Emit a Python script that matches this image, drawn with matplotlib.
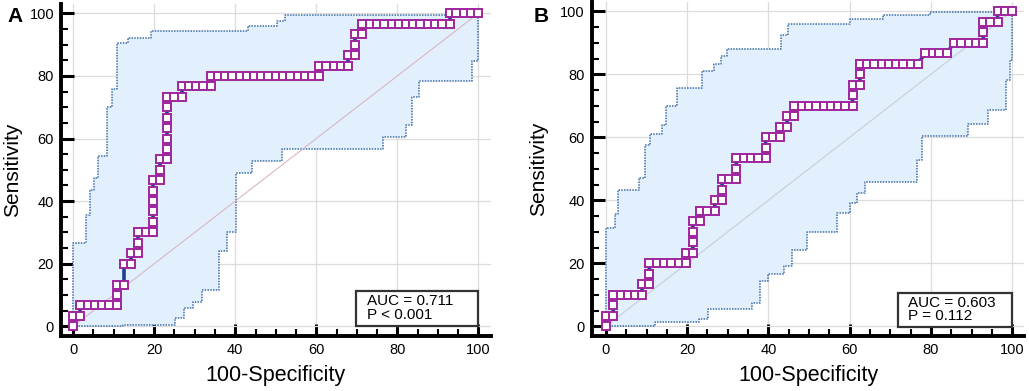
import numpy as np
import matplotlib.pyplot as plt
from matplotlib.patches import Rectangle
from matplotlib.ticker import MultipleLocator

plt.rcParams['font.family'] = ['Liberation Sans', 'DejaVu Sans']

# panel A - ROC points (100-specificity, sensitivity)
a_fpr = [0, 0, 1.8, 1.8, 3.6, 5.4, 7.1, 8.9, 10.7, 10.7, 10.7, 12.5, 12.5, 14.3, 14.3,
         16.1, 16.1, 16.1, 17.9, 19.6, 19.6, 19.6, 19.6, 19.6, 19.6, 21.4, 21.4, 21.4,
         23.2, 23.2, 23.2, 23.2, 23.2, 23.2, 23.2, 25.0, 26.8, 26.8, 28.6, 30.4, 32.1,
         33.9, 33.9, 35.7, 37.5, 39.3, 41.1, 42.9, 44.6, 46.4, 48.2, 50.0, 51.8, 53.6,
         55.4, 57.1, 58.9, 60.7, 60.7, 62.5, 64.3, 66.1, 67.9, 67.9, 69.6, 69.6, 69.6,
         71.4, 71.4, 73.2, 75.0, 76.8, 78.6, 80.4, 82.1, 83.9, 85.7, 87.5, 89.3, 91.1,
         92.9, 92.9, 94.6, 96.4, 98.2, 100]
a_sens = [0, 3.3, 3.3, 6.7, 6.7, 6.7, 6.7, 6.7, 6.7, 10, 13.3, 13.3, 20, 20, 23.3,
          23.3, 26.7, 30, 30, 30, 33.3, 36.7, 40, 43.3, 46.7, 46.7, 50, 53.3,
          53.3, 56.7, 60, 63.3, 66.7, 70, 73.3, 73.3, 73.3, 76.7, 76.7, 76.7, 76.7,
          76.7, 80, 80, 80, 80, 80, 80, 80, 80, 80, 80, 80, 80,
          80, 80, 80, 80, 83.3, 83.3, 83.3, 83.3, 83.3, 86.7, 86.7, 90, 93.3,
          93.3, 96.7, 96.7, 96.7, 96.7, 96.7, 96.7, 96.7, 96.7, 96.7, 96.7, 96.7, 96.7,
          96.7, 100, 100, 100, 100, 100]

# panel A - confidence band (step corners)
a_up_x = [0, 0, 3.1, 4.1, 5.1, 6.1, 8.4, 9.7, 10.8, 13.5, 19.3, 43.1, 50.3, 52.3, 100]
a_up_y = [0, 26.6, 35.7, 43.7, 47.3, 54.4, 70.0, 75.7, 90.4, 92.2, 94.2, 96.0, 97.6, 99.6, 100]
a_lo_x = [0, 12.3, 25.2, 27.3, 29.6, 31.8, 35.9, 38.0, 40.1, 44.1, 51.5, 76.5, 82.2, 83.7,
          85.3, 98.5, 100]
a_lo_y = [0, 0.3, 2.6, 5.9, 7.7, 11.7, 24.2, 30.0, 49.0, 52.7, 56.5, 60.4, 64.4, 73.2,
          78.5, 84.9, 100]

# panel B - ROC points
b_fpr = [0, 0, 1.8, 1.8, 1.8, 3.6, 5.4, 7.1, 8.9, 8.9, 10.7, 10.7, 10.7, 12.5, 14.3,
         16.1, 17.9, 19.6, 19.6, 21.4, 21.4, 21.4, 21.4, 23.2, 23.2, 25.0, 26.8, 26.8,
         28.6, 28.6, 28.6, 30.4, 32.1, 32.1, 32.1, 33.9, 35.7, 37.5, 39.3, 39.3, 39.3,
         41.1, 42.9, 42.9, 44.6, 44.6, 46.4, 46.4, 48.2, 50.0, 51.8, 53.6, 55.4, 57.1,
         58.9, 60.7, 60.7, 60.7, 62.5, 62.5, 62.5, 64.3, 66.1, 67.9, 69.6, 71.4, 73.2,
         75.0, 76.8, 78.6, 80.4, 82.1, 83.9, 85.7, 87.5, 89.3, 91.1, 92.9, 92.9, 92.9,
         94.6, 96.4, 96.4, 98.2, 100]
b_sens = [0, 3.3, 3.3, 6.7, 10, 10, 10, 10, 10, 13.3, 13.3, 16.7, 20, 20, 20,
          20, 20, 20, 23.3, 23.3, 26.7, 30, 33.3, 33.3, 36.7, 36.7, 36.7, 40,
          40, 43.3, 46.7, 46.7, 46.7, 50, 53.3, 53.3, 53.3, 53.3, 53.3, 56.7, 60,
          60, 60, 63.3, 63.3, 66.7, 66.7, 70, 70, 70, 70, 70, 70, 70,
          70, 70, 73.3, 76.7, 76.7, 80, 83.3, 83.3, 83.3, 83.3, 83.3, 83.3, 83.3,
          83.3, 83.3, 86.7, 86.7, 86.7, 86.7, 90, 90, 90, 90, 90, 93.3, 96.7,
          96.7, 96.7, 100, 100, 100]

# panel B - confidence band
b_up_x = [0, 0, 2.2, 2.9, 8.2, 9.6, 10.8, 13.7, 14.8, 17.6, 23.6, 26.7, 28.3, 29.9,
          43.2, 44.9, 60.1, 68.3, 79.7, 100]
b_up_y = [0, 31.2, 35.6, 43.4, 47.1, 57.5, 60.9, 63.8, 69.8, 75.5, 81.0, 83.4, 85.7, 87.9,
          92.4, 95.9, 97.4, 98.7, 99.8, 100]
b_lo_x = [0, 12.1, 22.9, 25.2, 36.0, 37.9, 40.0, 43.9, 45.9, 49.4, 56.8, 60.1, 61.9, 63.7,
          76.5, 77.9, 89.2, 94.1, 98.6, 99.4, 100]
b_lo_y = [0, 1.2, 2.4, 5.6, 7.5, 14.4, 16.6, 19.0, 24.1, 29.9, 36.0, 39.1, 42.3, 45.8,
          52.7, 60.3, 64.3, 68.6, 78.1, 84.4, 100]

a_text = ['AUC = 0.711', 'P < 0.001']
b_text = ['AUC = 0.603', 'P = 0.112']


def corners(xs, ys):
    vx, vy = [xs[0]], [ys[0]]
    for i in range(1, len(xs)):
        vx += [xs[i], xs[i]]
        vy += [ys[i - 1], ys[i]]
    return np.array(vx), np.array(vy)


def roc_panel(ax, fpr, sens, upx, upy, lox, loy, lines, box, diag_col, xmin, ylab_x):
    ux, uy = corners(upx, upy)
    lx, ly = corners(lox, loy)
    ax.fill(np.r_[ux, lx[::-1]], np.r_[uy, ly[::-1]], color='#e2effd', lw=0, zorder=1)
    ax.plot(ux, uy, color='#3f6fa8', lw=1.1, ls=(0, (1, 0.8)), zorder=2)
    ax.plot(lx, ly, color='#3f6fa8', lw=1.1, ls=(0, (1, 0.8)), zorder=2)
    ax.plot([0, 100], [0, 100], color=diag_col, lw=0.8, zorder=2)
    ax.plot(fpr, sens, color='#1d3f8f', lw=2.6, zorder=3)
    ax.plot(fpr, sens, ls='none', marker='s', ms=5.8, mfc='white', mec='#a0259f',
            mew=1.4, zorder=4)

    ax.set_xlim(xmin, 103)
    ax.set_ylim(-3, 103)
    ax.xaxis.set_major_locator(MultipleLocator(20))
    ax.yaxis.set_major_locator(MultipleLocator(20))
    ax.xaxis.set_minor_locator(MultipleLocator(5))
    ax.yaxis.set_minor_locator(MultipleLocator(5))
    ax.grid(True, which='major', color='#dcdcdc', lw=0.9, zorder=0)
    ax.set_axisbelow(True)
    for s in ['top', 'right']:
        ax.spines[s].set_visible(False)
    for s in ['left', 'bottom']:
        ax.spines[s].set_linewidth(2.8)
    ax.tick_params(which='major', direction='in', length=9, width=2.2, labelsize=10.5, pad=5)
    ax.tick_params(which='minor', direction='in', length=5, width=1.5)

    ax.set_xlabel('100-Specificity', fontsize=15.5, labelpad=6)
    ax.set_ylabel('Sensitivity', fontsize=15, va='center')
    ax.yaxis.set_label_coords(ylab_x, 0.5)

    bx0, by0, bx1, by1, tx, ty1, ty2 = box
    ax.add_patch(Rectangle((bx0, by0), bx1 - bx0, by1 - by0, fc='white', ec='#333333',
                           lw=1.6, zorder=5, clip_on=False))
    ax.text(tx, ty1, lines[0], fontsize=11, va='center', ha='left', zorder=6)
    ax.text(tx, ty2, lines[1], fontsize=11, va='center', ha='left', zorder=6)


fig = plt.figure(figsize=(10.29, 3.91), dpi=100)
ax1 = fig.add_axes([0.0593, 0.1414, 0.4174, 0.8486])
ax2 = fig.add_axes([0.575, 0.1414, 0.4205, 0.854])

roc_panel(ax1, a_fpr, a_sens, a_up_x, a_up_y, a_lo_x, a_lo_y, a_text,
          (69.7, 0, 100, 11.4, 72.6, 8.0, 3.5), '#dcb6c2', -3, -0.112)
roc_panel(ax2, b_fpr, b_sens, b_up_x, b_up_y, b_lo_x, b_lo_y, b_text,
          (71.9, -0.2, 100, 10.7, 74.3, 7.4, 3.2), '#c9cdd8', -3.5, -0.122)

fig.text(15 / 1029, 1 - 16 / 391, 'A', fontsize=15, fontweight='bold', ha='center', va='center')
fig.text(541 / 1029, 1 - 16 / 391, 'B', fontsize=15, fontweight='bold', ha='center', va='center')

fig.savefig('out.png', dpi=100)
